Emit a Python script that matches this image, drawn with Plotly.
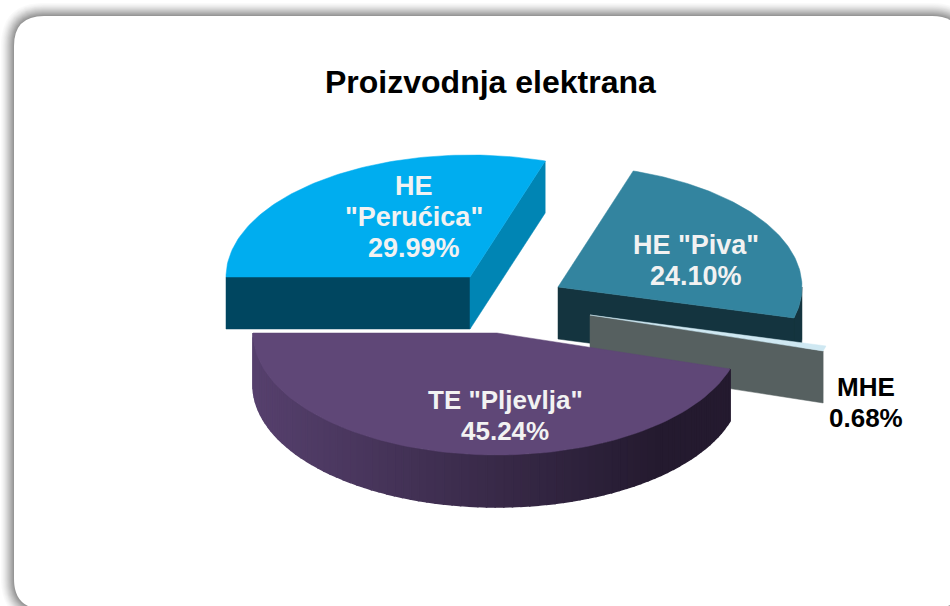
import math
import plotly.graph_objects as go

categories = [['HE', '"Perućica"'], ['HE "Piva"'], ['MHE'], ['TE "Pljevlja"']]
values = [29.99, 24.10, 0.68, 45.24]
value_labels = ["29.99%", "24.10%", "0.68%", "45.24%"]
title_text = "Proizvodnja elektrana"

W, H = 950, 606
RX, RY, DEPTH = 244, 122, 52
START_DEG = 270
apexes = [(470, 277), (558, 287), (590, 315), (497, 333)]
top_colors = ["#00adef", "#33849f", "#cfe8f2", "#5f4777"]
radial_colors = ["#004660", "#14343f", "#566060", None]
end_face_colors = ["#0085b4", None, None, None]
label_first_y = [185.5, 245, 387, 400]
label_x = [414, 696, 866, 505]
label_sizes = [27, 27, 26, 26]
label_colors = ["#f2f2f2", "#f2f2f2", "#000000", "#f2f2f2"]
LINE_STEP = 31.2

fig = go.Figure()


def poly(xs, ys, color, lw=0.5):
    fig.add_trace(go.Scatter(
        x=xs + xs[:1], y=ys + ys[:1], mode="lines", fill="toself",
        fillcolor=color, line=dict(color=color, width=lw),
        hoverinfo="skip", showlegend=False))


def rim(apex, deg):
    a = math.radians(deg)
    return apex[0] + RX * math.sin(a), apex[1] - RY * math.cos(a)


# slice angles come from the values
total = sum(values)
angles = []
cum = START_DEG
for v in values:
    sweep = v / total * 360
    angles.append((cum, cum + sweep))
    cum += sweep


def arc(apex, a0, a1, n=90):
    pts = [rim(apex, a0 + (a1 - a0) * i / n) for i in range(n + 1)]
    return [p[0] for p in pts], [p[1] for p in pts]


def radial_face(apex, deg, color):
    x1, y1 = rim(apex, deg)
    poly([apex[0], x1, x1, apex[0]],
         [apex[1], y1, y1 + DEPTH, apex[1] + DEPTH], color)


def top(apex, a0, a1, color):
    xs, ys = arc(apex, a0, a1)
    poly([apex[0]] + xs, [apex[1]] + ys, color)


# Perućica
a0, a1 = angles[0]
radial_face(apexes[0], a0, radial_colors[0])
radial_face(apexes[0], a1, end_face_colors[0])
top(apexes[0], a0, a1, top_colors[0])

# Piva (a 3 o'clock rim point sits at 450 degrees after the wrap past 360)
a0, a1 = angles[1]
xs, ys = arc(apexes[1], 450, a1, 30)
poly(xs + xs[::-1], ys + [y + DEPTH for y in ys[::-1]], radial_colors[1])
radial_face(apexes[1], a1, radial_colors[1])
top(apexes[1], a0, a1, top_colors[1])

# MHE
a0, a1 = angles[2]
radial_face(apexes[2], a1, radial_colors[2])
top(apexes[2], a0, a1, top_colors[2])

# Pljevlja: outer wall with a left-to-right shade
a0, a1 = angles[3]
shade_left = (86, 64, 109)
shade_right = (36, 26, 47)
n = 80
xmin, xmax = apexes[3][0] - RX, apexes[3][0] + RX
for i in range(n):
    s0 = a0 + (a1 - a0) * i / n
    s1 = a0 + (a1 - a0) * (i + 1) / n
    xs, ys = arc(apexes[3], s0, s1, 2)
    t = min(1, (xs[1] - xmin) / (xmax - xmin) * 1.2)
    c = [round(l + (r - l) * t) for l, r in zip(shade_left, shade_right)]
    col = f"rgb({c[0]},{c[1]},{c[2]})"
    poly(xs + xs[::-1], ys + [y + DEPTH for y in ys[::-1]], col, lw=1.5)
top(apexes[3], a0, a1, top_colors[3])

# labels, one annotation per line so the line step matches
for lines, val, lx, ly, size, col in zip(categories, value_labels, label_x, label_first_y,
                                         label_sizes, label_colors):
    for j, line in enumerate(lines + [val]):
        fig.add_annotation(x=lx, y=ly + j * LINE_STEP, text=f"<b>{line}</b>", showarrow=False,
                           font=dict(family="Liberation Sans", size=size, color=col),
                           xanchor="center", yanchor="middle", align="center")

fig.add_annotation(x=490, y=82, text=f"<b>{title_text}</b>", showarrow=False,
                   font=dict(family="Liberation Sans", size=32, color="#000000"),
                   xanchor="center", yanchor="middle")


# rounded card with soft border
def rrect(x0, y0, x1, y1, r):
    return (f"M{x0 + r},{y0} L{x1 - r},{y0} Q{x1},{y0} {x1},{y0 + r} "
            f"L{x1},{y1 - r} Q{x1},{y1} {x1 - r},{y1} L{x0 + r},{y1} "
            f"Q{x0},{y1} {x0},{y1 - r} L{x0},{y0 + r} Q{x0},{y0} {x0 + r},{y0} Z")


shapes = []
steps = 13
for i in range(steps):
    g = round(250 - (250 - 150) * (i / (steps - 1)) ** 1.3)
    d = steps - i
    shapes.append(dict(type="path", layer="below", xref="x", yref="y",
                       path=rrect(14 - d, 16 - d, 962 + d, 609 + d, 30 + d),
                       fillcolor=f"rgb({g},{g},{g})", line=dict(width=0)))
shapes.append(dict(type="path", layer="below", xref="x", yref="y",
                   path=rrect(14, 16, 962, 609, 30),
                   fillcolor="#ffffff", line=dict(width=0)))

fig.update_layout(
    width=W, height=H, margin=dict(l=0, r=0, t=0, b=0),
    paper_bgcolor="#ffffff", plot_bgcolor="#ffffff",
    xaxis=dict(range=[0, W], visible=False, fixedrange=True),
    yaxis=dict(range=[H, 0], visible=False, fixedrange=True),
    shapes=shapes, showlegend=False,
)
fig.write_html("out.html", config={"displayModeBar": False},
               post_script="document.body.style.margin='0';document.documentElement.style.overflow='hidden';")
